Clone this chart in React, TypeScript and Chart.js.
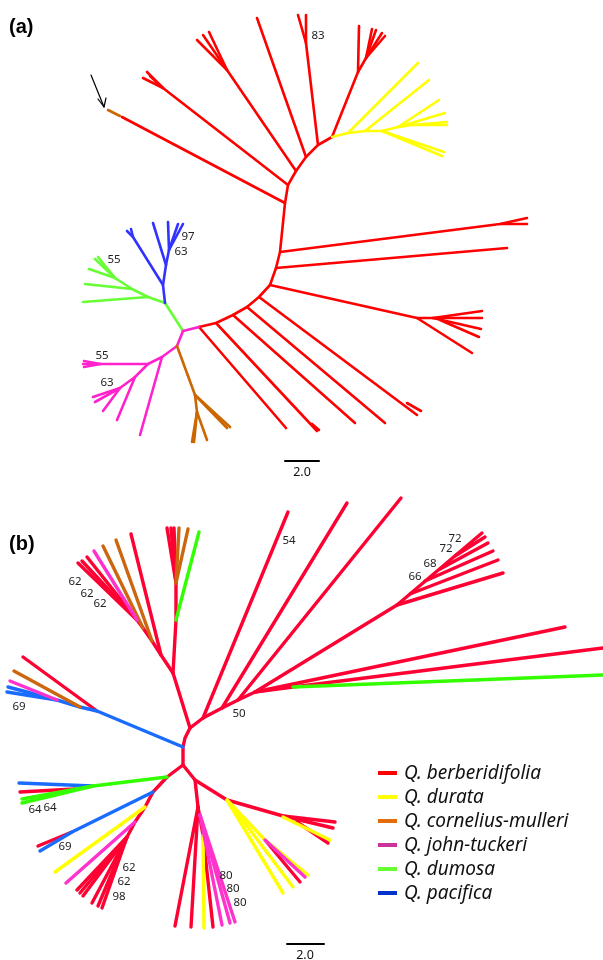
import React, { useEffect, useRef } from "react";
import { Chart, registerables } from "chart.js";

Chart.register(...registerables);

// ---------- Panel (a) tree branches (node coordinates in figure units) ----------
const aRed: number[][] = [
  [199, 327, 216, 323, 233, 315, 247, 307, 259, 297, 270, 285, 276, 268, 280, 252, 285, 203, 288, 185, 296, 171, 306, 157, 318, 145, 332, 137],
  [199, 327, 286, 428],
  [216, 323, 317, 431],
  [312, 424, 319, 430],
  [233, 315, 355, 423],
  [247, 307, 385, 423],
  [259, 297, 417, 415],
  [407, 403, 421, 411],
  [270, 285, 417, 318, 472, 353],
  [417, 318, 433, 318, 482, 318],
  [433, 318, 482, 311],
  [433, 318, 481, 329],
  [440, 320, 479, 337],
  [276, 268, 507, 248],
  [280, 252, 500, 224, 527, 218],
  [500, 224, 527, 224],
  [285, 203, 122, 117],
  [288, 185, 163, 88, 143, 78],
  [163, 88, 147, 72],
  [163, 88, 150, 76],
  [296, 171, 227, 70, 197, 40],
  [227, 70, 203, 35],
  [227, 70, 209, 32],
  [306, 157, 257, 18],
  [318, 145, 306, 43, 298, 15],
  [306, 43, 306, 15],
  [332, 137, 358, 72, 359, 26],
  [358, 72, 366, 58, 372, 29],
  [366, 58, 376, 30],
  [366, 58, 385, 36],
  [366, 58, 382, 33],
];
const aYellow: number[][] = [
  [332, 137, 348, 133, 365, 131, 382, 131, 398, 127, 412, 125, 447, 125],
  [348, 133, 418, 63],
  [365, 131, 429, 80],
  [382, 131, 444, 152],
  [382, 131, 442, 156],
  [398, 127, 439, 100],
  [398, 127, 445, 113],
  [412, 125, 447, 122],
];
const aGreen: number[][] = [
  [183, 331, 165, 303],
  [165, 303, 148, 297, 83, 302],
  [148, 297, 132, 289, 85, 284],
  [132, 289, 115, 278, 89, 269],
  [115, 278, 95, 259],
  [115, 278, 98, 257],
];
const aBlue: number[][] = [
  [165, 303, 163, 285, 166, 265, 169, 250, 168, 222],
  [163, 285, 133, 237, 127, 231],
  [133, 237, 131, 229],
  [166, 265, 153, 223],
  [169, 250, 178, 224],
  [169, 250, 183, 224],
];
const aPink: number[][] = [
  [183, 331, 199, 327],
  [183, 331, 177, 346, 162, 357, 140, 435],
  [162, 357, 148, 364, 83, 364],
  [100, 364, 84, 361],
  [100, 364, 84, 367],
  [148, 364, 135, 377, 117, 420],
  [135, 377, 120, 388, 103, 411],
  [120, 388, 93, 397],
  [120, 388, 95, 402],
];
const aOrange: number[][] = [
  [177, 346, 195, 395, 227, 428],
  [195, 395, 230, 427],
  [195, 395, 197, 412, 192, 442],
  [197, 412, 194, 442],
  [197, 412, 207, 440],
  [108, 110, 120, 116],
];
const aSupport: [string, number, number][] = [
  ["83", 318, 36],
  ["97", 188, 237],
  ["63", 181, 252],
  ["55", 114, 260],
  ["55", 102, 356],
  ["63", 107, 383],
];

// ---------- Panel (b) tree branches ----------
const bRed: number[][] = [
  [190, 728, 185, 738, 183, 747, 183, 765],
  [190, 728, 173, 673],
  [190, 728, 203, 718, 222, 708, 238, 700, 255, 692],
  [203, 718, 288, 512],
  [222, 708, 347, 503],
  [238, 700, 401, 498],
  [255, 692, 397, 605, 482, 533],
  [397, 605, 503, 573],
  [410, 594, 498, 560],
  [425, 581, 493, 551],
  [440, 569, 488, 543],
  [455, 556, 485, 537],
  [255, 692, 565, 627],
  [255, 692, 293, 687, 603, 648],
  [173, 673, 161, 655, 131, 534],
  [161, 655, 152, 641],
  [152, 641, 143, 628],
  [143, 628, 137, 620],
  [137, 620, 78, 563],
  [137, 620, 82, 561],
  [137, 620, 87, 557],
  [173, 673, 176, 620, 176, 583],
  [176, 583, 167, 528],
  [176, 583, 171, 528],
  [176, 583, 174, 528],
  [97, 711, 23, 657],
  [183, 765, 167, 777],
  [75, 789, 20, 792],
  [167, 777, 153, 792, 145, 807, 135, 822, 127, 837],
  [72, 832, 38, 846],
  [127, 837, 80, 893],
  [127, 837, 77, 890],
  [127, 837, 83, 896],
  [127, 837, 92, 903],
  [127, 837, 98, 906],
  [127, 837, 102, 908],
  [183, 765, 195, 780, 198, 807],
  [198, 807, 175, 926],
  [198, 807, 191, 927],
  [198, 807, 203, 835, 213, 927],
  [195, 780, 227, 800, 283, 816, 335, 822],
  [283, 816, 333, 828],
  [297, 822, 328, 843],
  [265, 840, 300, 882],
];
const bYellow: number[][] = [
  [203, 835, 204, 928],
  [283, 817, 330, 840],
  [227, 800, 265, 840],
  [227, 800, 283, 893],
  [232, 806, 293, 887],
  [265, 840, 308, 875],
  [145, 807, 55, 872],
];
const bPink: number[][] = [
  [137, 620, 94, 551],
  [57, 700, 10, 681],
  [135, 822, 66, 883],
  [200, 815, 222, 925],
  [200, 815, 230, 923],
  [200, 815, 235, 922],
  [265, 840, 305, 877],
];
const bOrange: number[][] = [
  [152, 641, 116, 540],
  [143, 628, 103, 546],
  [176, 583, 179, 528],
  [176, 583, 188, 529],
  [80, 707, 14, 671],
];
const bGreen: number[][] = [
  [176, 620, 199, 532],
  [293, 687, 603, 675],
  [167, 777, 93, 786],
  [93, 786, 22, 799],
  [93, 786, 22, 803],
];
const bBlue: number[][] = [
  [183, 747, 97, 711, 80, 707, 57, 700, 7, 692],
  [57, 700, 8, 687],
  [93, 786, 19, 783],
  [153, 792, 72, 832, 40, 851],
];
const bSupport: [string, number, number][] = [
  ["54", 289, 541],
  ["72", 455, 539],
  ["72", 446, 549],
  ["68", 430, 564],
  ["66", 415, 577],
  ["50", 239, 714],
  ["62", 75, 582],
  ["62", 87, 594],
  ["62", 100, 604],
  ["69", 19, 707],
  ["64", 35, 810],
  ["64", 50, 808],
  ["69", 65, 847],
  ["62", 129, 868],
  ["62", 124, 882],
  ["98", 119, 897],
  ["80", 226, 876],
  ["80", 233, 889],
  ["80", 240, 903],
];

// scale bars, arrow
const scaleBars: number[][] = [
  [285, 461, 319, 461],
  [287, 944, 324, 944],
];
const scaleLabels: [string, number, number][] = [
  ["2.0", 302, 472],
  ["2.0", 305, 955],
];
const arrowPaths: number[][] = [
  [91, 75, 104, 107],
  [98, 99, 104, 107, 106, 98],
];
const panelLabels: [string, number, number][] = [
  ["(a)", 9, 27],
  ["(b)", 9, 544],
];

// legend
const legendNames = [
  "Q. berberidifolia",
  "Q. durata",
  "Q. cornelius-mulleri",
  "Q. john-tuckeri",
  "Q. dumosa",
  "Q. pacifica",
];
const legendColors = ["#ff0000", "#ffff00", "#e46c0a", "#cc3399", "#66ff33", "#0033cc"];

const toPts = (p: number[]) => {
  const out: { x: number; y: number }[] = [];
  for (let i = 0; i < p.length; i += 2) out.push({ x: p[i], y: p[i + 1] });
  return out;
};

export default function App() {
  const ref = useRef<HTMLCanvasElement | null>(null);
  useEffect(() => {
    if (!ref.current) return;
    const datasets: any[] = [];
    const add = (paths: number[][], color: string, width: number) => {
      paths.forEach((p) =>
        datasets.push({
          data: toPts(p),
          borderColor: color,
          backgroundColor: color,
          borderWidth: width,
          showLine: true,
          pointRadius: 0,
          fill: false,
          tension: 0,
          borderCapStyle: "round",
          borderJoinStyle: "round",
        })
      );
    };
    // later datasets are drawn underneath earlier ones; push top-most first
    add(scaleBars, "#000000", 2);
    add(arrowPaths, "#000000", 1.2);
    add(aOrange, "#cc6600", 2.6);
    add(aPink, "#ff22cc", 2.6);
    add(aBlue, "#3333ff", 2.6);
    add(aGreen, "#66ff33", 2.6);
    add(aYellow, "#ffff00", 2.6);
    add(aRed, "#ff0000", 2.6);
    add(bGreen, "#33ff00", 3.4);
    add(bPink, "#ff33cc", 3.4);
    add(bOrange, "#cc6611", 3.4);
    add(bYellow, "#ffff00", 3.4);
    add(bBlue, "#1a6cff", 3.4);
    add(bRed, "#ff0033", 3.4);

    const textPlugin = {
      id: "texts",
      afterDatasetsDraw(chart: any) {
        const ctx = chart.ctx;
        const xs = chart.scales.x;
        const ys = chart.scales.y;
        ctx.save();
        ctx.fillStyle = "#222222";
        ctx.textAlign = "center";
        ctx.textBaseline = "middle";
        ctx.font = '11.5px "Noto Sans", sans-serif';
        [...aSupport, ...bSupport].forEach(([t, x, y]) => {
          ctx.fillText(t, xs.getPixelForValue(x), ys.getPixelForValue(y));
        });
        ctx.font = '12.5px "Noto Sans", sans-serif';
        ctx.fillStyle = "#111111";
        scaleLabels.forEach(([t, x, y]) => {
          ctx.fillText(t, xs.getPixelForValue(x), ys.getPixelForValue(y));
        });
        ctx.font = 'bold 20px "Liberation Sans", Arial, sans-serif';
        ctx.textAlign = "left";
        ctx.fillStyle = "#000000";
        panelLabels.forEach(([t, x, y]) => {
          ctx.fillText(t, xs.getPixelForValue(x), ys.getPixelForValue(y));
        });
        // legend
        ctx.font = 'italic 19px "Noto Sans", sans-serif';
        legendNames.forEach((name, i) => {
          const y = ys.getPixelForValue(773 + i * 24);
          ctx.fillStyle = legendColors[i];
          ctx.fillRect(xs.getPixelForValue(378), y - 2, 19, 4);
          ctx.fillStyle = "#111111";
          ctx.fillText(name, xs.getPixelForValue(404), y + 1);
        });
        ctx.restore();
      },
    };

    const chart = new Chart(ref.current, {
      type: "scatter",
      data: { datasets },
      options: {
        animation: false,
        responsive: true,
        maintainAspectRatio: false,
        layout: { padding: 0 },
        plugins: { legend: { display: false }, tooltip: { enabled: false } },
        scales: {
          x: { type: "linear", min: 0, max: 603, display: false },
          y: { type: "linear", min: 0, max: 960, reverse: true, display: false },
        },
      },
      plugins: [textPlugin],
    } as any);
    return () => chart.destroy();
  }, []);
  return (
    <div style={{ position: "absolute", left: 0, top: 0, width: 603, height: 960, background: "#ffffff" }}>
      <canvas ref={ref} />
    </div>
  );
}
